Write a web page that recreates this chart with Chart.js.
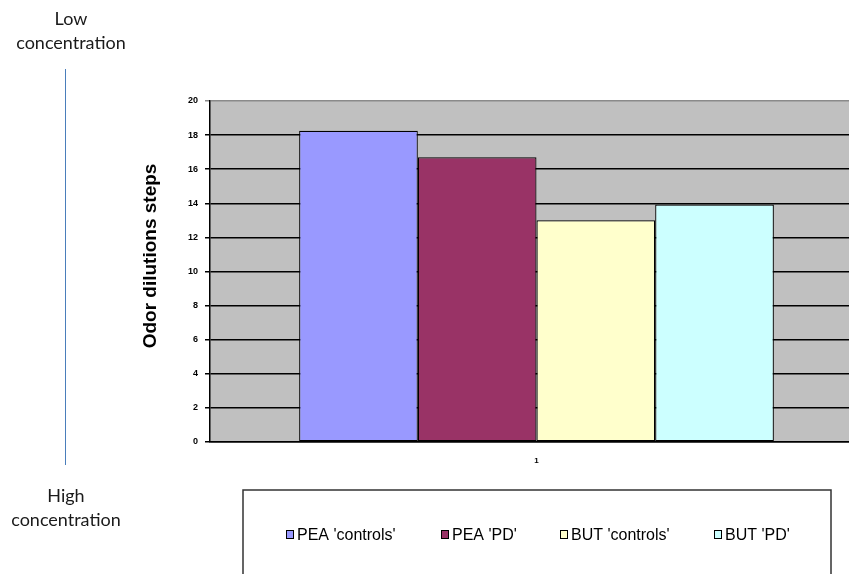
<!DOCTYPE html>
<html>
<head>
<meta charset="utf-8">
<script src="https://cdn.jsdelivr.net/npm/chart.js@4"></script>
<style>
  html, body { margin: 0; padding: 0; background: #fff; overflow: hidden; width: 849px; height: 574px; }
  #wrap { position: absolute; left: 0; top: 0; width: 870px; height: 574px; }
  .note { position: absolute; left: 0; font-family: Lato, "Open Sans", sans-serif; font-size: 18px; line-height: 24px; color: #1a1a1a; text-align: center; }
  #vline { position: absolute; left: 65px; top: 69px; width: 1px; height: 396px; background: #4a7ebb; }
</style>
</head>
<body>
<div id="wrap"><canvas id="chart" width="870" height="574"></canvas></div>
<div class="note" style="top:6px; width:142px;">Low<br>concentration</div>
<div id="vline"></div>
<div class="note" style="top:483px; width:132px;">High<br>concentration</div>
<script>
// chart data
const categories = ['1'];
const seriesNames = ["PEA 'controls'", "PEA 'PD'", "BUT 'controls'", "BUT 'PD'"];
const seriesValues = [[18.25], [16.7], [13.0], [13.93]];
const seriesColors = ['#9999ff', '#993366', '#ffffcc', '#ccffff'];
const yTicks = [0, 2, 4, 6, 8, 10, 12, 14, 16, 18, 20];

// gray plot background
const plotBg = {
  id: 'plotBg',
  beforeDraw(chart) {
    const a = chart.chartArea;
    const ctx = chart.ctx;
    ctx.save();
    ctx.fillStyle = '#c0c0c0';
    ctx.fillRect(a.left, a.top, a.right - a.left, a.bottom - a.top);
    ctx.restore();
  }
};

// y title + boxed legend at bottom
const extras = {
  id: 'extras',
  afterDraw(chart) {
    const ctx = chart.ctx;
    ctx.save();
    ctx.translate(151, 256);
    ctx.rotate(-Math.PI / 2);
    ctx.font = 'bold 19px "Liberation Sans", Arial, sans-serif';
    ctx.fillStyle = '#000';
    ctx.textAlign = 'center';
    ctx.textBaseline = 'middle';
    ctx.fillText('Odor dilutions steps', 0, 0);
    ctx.restore();

    ctx.save();
    ctx.strokeStyle = '#333';
    ctx.lineWidth = 1.5;
    ctx.strokeRect(243, 490, 588, 120);
    const xs = [286, 441, 560, 714];
    ctx.font = '16px "Liberation Sans", Arial, sans-serif';
    ctx.textBaseline = 'middle';
    chart.data.datasets.forEach((ds, i) => {
      ctx.fillStyle = ds.backgroundColor;
      ctx.fillRect(xs[i], 530, 7, 8);
      ctx.strokeStyle = '#000';
      ctx.lineWidth = 1;
      ctx.strokeRect(xs[i] + 0.5, 530.5, 7, 8);
      ctx.fillStyle = '#000';
      ctx.fillText(ds.label, xs[i] + 11, 536);
    });
    ctx.restore();
  }
};

const ctx = document.getElementById('chart').getContext('2d');
new Chart(ctx, {
  type: 'bar',
  data: {
    labels: categories,
    datasets: seriesNames.map((name, i) => ({
      label: name,
      data: seriesValues[i],
      backgroundColor: seriesColors[i],
      borderColor: '#000',
      borderWidth: 1.2,
      borderSkipped: false,
      categoryPercentage: 0.727,
      barPercentage: 1
    }))
  },
  options: {
    responsive: false,
    animation: false,
    layout: { padding: { top: 101, left: 170, right: 7, bottom: 100 } },
    plugins: { legend: { display: false }, tooltip: { enabled: false } },
    scales: {
      x: {
        afterFit(scale) { scale.height = 32; },
        grid: { display: false, drawTicks: false },
        border: { color: '#000', width: 1.5 },
        ticks: { padding: 14, color: '#000', font: { family: 'Liberation Sans', size: 8, weight: 'bold' } }
      },
      y: {
        min: 0,
        max: 20,
        afterFit(scale) { scale.width = 40; },
        afterBuildTicks(scale) { scale.ticks = yTicks.map(v => ({ value: v })); },
        grid: {
          color: c => (c.tick && c.tick.value === 20 ? '#8a8a8a' : '#000'),
          lineWidth: 1.5,
          tickLength: 5
        },
        border: { color: '#000', width: 1.5 },
        ticks: { padding: 7, color: '#000', font: { family: 'Liberation Sans', size: 9, weight: 'bold' } }
      }
    }
  },
  plugins: [plotBg, extras]
});
</script>
</body>
</html>
